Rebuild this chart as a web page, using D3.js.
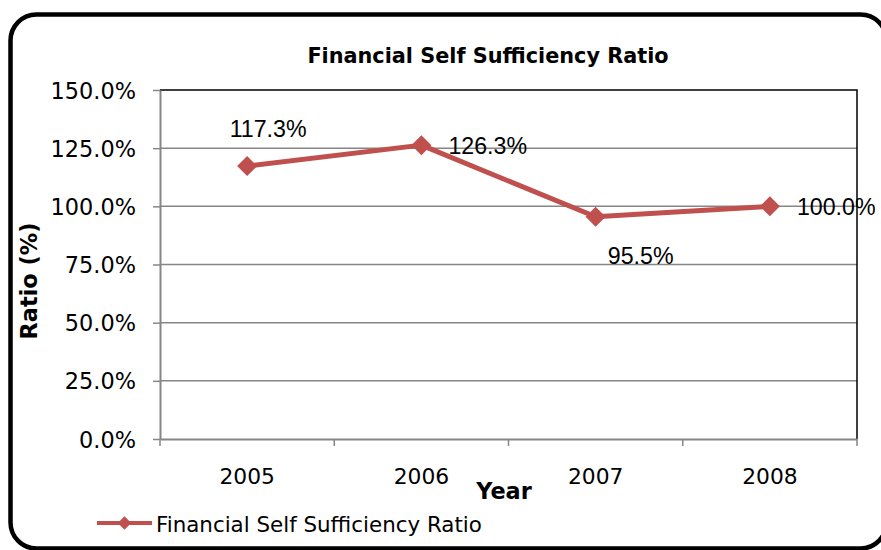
<!DOCTYPE html>
<html>
<head>
<meta charset="utf-8">
<script src="https://cdn.jsdelivr.net/npm/d3@7"></script>
<style>
  html, body { margin: 0; padding: 0; background: #fff; }
  svg { display: block; }
</style>
</head>
<body>
<svg id="chart" width="881" height="550"></svg>
<script>
// Chart data
const years = ["2005", "2006", "2007", "2008"];
const ratios = [117.3, 126.3, 95.5, 100.0];
const yTicks = [0, 25, 50, 75, 100, 125, 150];
const seriesName = "Financial Self Sufficiency Ratio";
const chartTitle = "Financial Self Sufficiency Ratio";

// Where each value label sits relative to its marker
const labelPlacement = ["above", "right", "below", "right"];

const W = 881, H = 550;
const margin = { left: 160, top: 90, right: 24, bottom: 111 };
const plotW = W - margin.left - margin.right;
const plotH = H - margin.top - margin.bottom;
const lineColor = "#C0504D";
const gridColor = "#868686";
const tickFont = "'DejaVu Sans', Verdana, sans-serif";

const svg = d3.select("#chart");

// Outer rounded frame
svg.append("rect")
  .attr("x", 10.5).attr("y", 14.5)
  .attr("width", 876).attr("height", 534)
  .attr("rx", 26).attr("ry", 26)
  .attr("fill", "#fff")
  .attr("stroke", "#000").attr("stroke-width", 4.5);

const x = d3.scaleBand().domain(years).range([0, plotW]).padding(0);
const y = d3.scaleLinear().domain([0, 150]).range([plotH, 0]);

const g = svg.append("g").attr("transform", `translate(${margin.left},${margin.top})`);

// Horizontal gridlines
g.append("g").selectAll("line").data(yTicks.filter(t => t > 0 && t < 150)).join("line")
  .attr("x1", 0).attr("x2", plotW)
  .attr("y1", d => y(d)).attr("y2", d => y(d))
  .attr("stroke", gridColor).attr("stroke-width", 1.5);

// Plot area border: top and right in black
g.append("path")
  .attr("d", `M0,${y(150)}H${plotW}V${plotH}`)
  .attr("fill", "none").attr("stroke", "#000").attr("stroke-width", 1.5);

// Y axis
const yAxis = g.append("g")
  .call(d3.axisLeft(y).tickValues(yTicks).tickSize(7).tickSizeOuter(0)
    .tickFormat(d => d.toFixed(1) + "%"));
yAxis.select(".domain").attr("stroke", gridColor).attr("stroke-width", 2);
yAxis.selectAll(".tick line").attr("stroke", gridColor).attr("stroke-width", 1.5);
yAxis.selectAll(".tick text")
  .attr("x", -24).attr("dy", "0.36em")
  .attr("font-family", tickFont).attr("font-size", 22.4).attr("fill", "#000");

// X axis with ticks on category boundaries
const xAxis = g.append("g").attr("transform", `translate(0,${plotH})`)
  .call(d3.axisBottom(x).tickSize(0).tickSizeOuter(0));
xAxis.select(".domain").attr("stroke", gridColor).attr("stroke-width", 2);
xAxis.selectAll(".tick text")
  .attr("y", 45).attr("dy", 0)
  .attr("font-family", tickFont).attr("font-size", 21.8).attr("fill", "#000");
const bounds = years.map(d => x(d)).concat([plotW]);
xAxis.append("g").selectAll("line").data(bounds).join("line")
  .attr("x1", d => d).attr("x2", d => d)
  .attr("y1", 0).attr("y2", 7)
  .attr("stroke", gridColor).attr("stroke-width", 1.5);

// Series line
const cx = (d, i) => x(years[i]) + x.bandwidth() / 2;
const line = d3.line().x((d, i) => cx(d, i)).y(d => y(d));
g.append("path").datum(ratios)
  .attr("d", line)
  .attr("fill", "none").attr("stroke", lineColor)
  .attr("stroke-width", 5).attr("stroke-linejoin", "round");

// Diamond markers
g.append("g").selectAll("path").data(ratios).join("path")
  .attr("d", d3.symbol().type(d3.symbolSquare).size(200))
  .attr("transform", (d, i) => `translate(${cx(d, i)},${y(d)}) rotate(45)`)
  .attr("fill", lineColor);

// Value labels
const labelFont = "'Liberation Sans', Arial, sans-serif";
g.append("g").selectAll("text").data(ratios).join("text")
  .attr("x", (d, i) => {
    const p = labelPlacement[i];
    if (p === "right") return cx(d, i) + 27;
    if (p === "above") return cx(d, i) + 21;
    return cx(d, i) + 45;
  })
  .attr("y", (d, i) => {
    const p = labelPlacement[i];
    if (p === "right") return y(d) + 9;
    if (p === "above") return y(d) - 29;
    return y(d) + 47;
  })
  .attr("text-anchor", (d, i) => labelPlacement[i] === "right" ? "start" : "middle")
  .attr("font-family", labelFont).attr("font-size", 23.2).attr("fill", "#000")
  .text(d => d.toFixed(1) + "%");

// Title
svg.append("text")
  .attr("x", 488).attr("y", 63)
  .attr("text-anchor", "middle")
  .attr("font-family", tickFont).attr("font-weight", "bold").attr("font-size", 20.8)
  .text(chartTitle);

// Axis titles
svg.append("text")
  .attr("x", 504).attr("y", 499)
  .attr("text-anchor", "middle")
  .attr("font-family", tickFont).attr("font-weight", "bold").attr("font-size", 22.4)
  .text("Year");

svg.append("text")
  .attr("transform", "translate(37,281) rotate(-90)")
  .attr("text-anchor", "middle")
  .attr("font-family", tickFont).attr("font-weight", "bold").attr("font-size", 22.4)
  .text("Ratio (%)");

// Legend
const lg = svg.append("g").attr("transform", "translate(97,523)");
lg.append("line").attr("x1", 0).attr("x2", 55).attr("y1", 0).attr("y2", 0)
  .attr("stroke", lineColor).attr("stroke-width", 4);
lg.append("path")
  .attr("d", d3.symbol().type(d3.symbolSquare).size(90))
  .attr("transform", "translate(27.5,0) rotate(45)")
  .attr("fill", lineColor);
lg.append("text")
  .attr("x", 59).attr("y", 9)
  .attr("font-family", tickFont).attr("font-size", 21.4).attr("fill", "#000")
  .text(seriesName);
</script>
</body>
</html>
